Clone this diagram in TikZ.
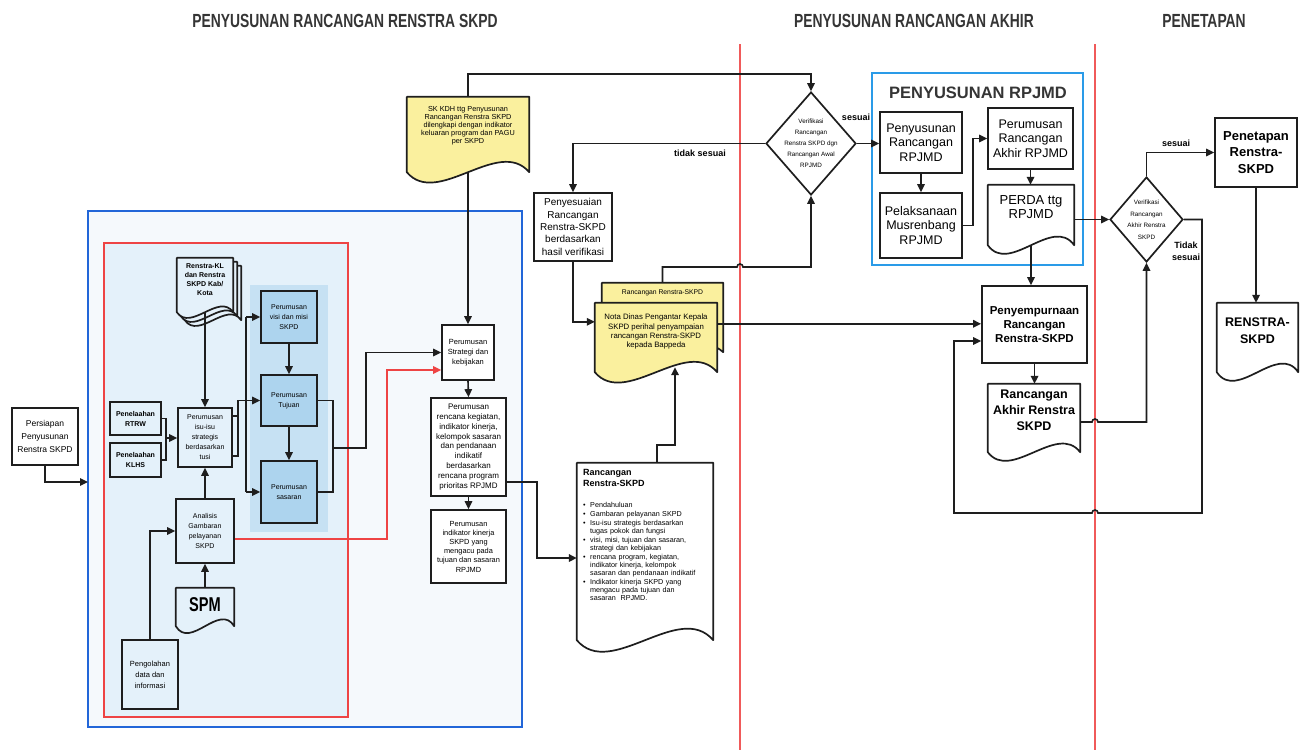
\documentclass[tikz,border=0pt]{standalone}
\usepackage{fontspec}
\setmainfont{Liberation Sans}
\newfontfamily\hdrfont{Liberation Sans}[FakeStretch=0.73]
\usetikzlibrary{shapes.geometric,arrows.meta,calc,fit}
\pgfdeclarelayer{bg}
\pgfdeclarelayer{docs}
\pgfsetlayers{bg,docs,main}
\definecolor{ink}{HTML}{1E1E1E}
\definecolor{redline}{HTML}{EE4444}
\definecolor{divred}{HTML}{F05A5A}
\definecolor{bigblue}{HTML}{2266D8}
\definecolor{rpblue}{HTML}{2A9BE8}
\definecolor{outerfill}{HTML}{F5F9FC}
\definecolor{palefill}{HTML}{E4F1FA}
\definecolor{midfill}{HTML}{C6E1F3}
\definecolor{boxfill}{HTML}{ADD4EE}
\definecolor{docyellow}{HTML}{FAF09E}
\newcommand\setfs[2]{\fontsize{#1}{#2}\selectfont}
\newcommand\rbul{\makebox[7pt][l]{\textbullet}}
\newcommand\rind{\hspace*{7pt}}
\newcommand\docbox[7]{%
  \node[fit={(#2,#3) (#4,#5)}, inner sep=0pt, draw=none] (#1) {};
  \begin{pgfonlayer}{docs}
  \filldraw[draw=ink, line width=1.7pt, fill=#6, line join=round]
    (#1.south west) -- (#1.north west) -- (#1.north east) -- (#1.south east)
    .. controls ($(#1.south)!0.5!(#1.south east)+(0,-#7)$)
           and ($(#1.south west)!0.5!(#1.south)+(0,#7)$) .. (#1.south west) -- cycle;
  \end{pgfonlayer}}
\tikzset{
  wh/.style 2 args={minimum width=#1pt, minimum height=#2pt},
  box/.style={draw=ink, line width=1.7pt, fill=white, align=center, inner sep=1pt},
  lbox/.style={box, fill=none},
  bbox/.style={box, fill=boxfill},
  txt/.style={align=center, inner sep=0pt},
  conn/.style={draw=ink, line width=1.6pt},
  arr/.style={conn, -{Triangle[length=8pt,width=7.5pt]}},
  redarr/.style={draw=redline, line width=1.7pt, -{Triangle[length=8pt,width=7.5pt]}},
  divider/.style={draw=divred, line width=1.1pt},
  lab/.style={inner sep=0pt, align=center, font=\bfseries\setfs{9}{12}},
  hdr/.style={inner sep=0pt, text=ink!90, font=\hdrfont\bfseries\setfs{19}{20}},
  dia/.style={diamond, draw=ink, line width=1.7pt, fill=white, inner sep=0pt}
}
\begin{document}
\begin{tikzpicture}[x=1pt,y=-1pt]
\useasboundingbox (0,0) rectangle (1304,750);
\begin{pgfonlayer}{bg}
\fill[white] (0,0) rectangle (1304,750);
\fill[outerfill] (88,211) rectangle (522,727);
\fill[palefill] (104,243) rectangle (348,717);
\fill[midfill] (250,285) rectangle (328,532);
\draw[divider] (740,44) -- (740,750);
\draw[divider] (1095,44) -- (1095,750);
\end{pgfonlayer}

% headers
\node[hdr] (h1) at (345,21) {PENYUSUNAN RANCANGAN RENSTRA SKPD};
\node[hdr] (h2) at (914,21) {PENYUSUNAN RANCANGAN AKHIR};
\node[hdr] (h3) at (1204,21) {PENETAPAN};

% frames
\node[draw=bigblue, line width=2pt, fit={(88,211) (522,727)}, inner sep=0pt] (bluebox) {};
\node[draw=redline, line width=1.7pt, fit={(104,243) (348,717)}, inner sep=0pt] (redbox) {};
\node[draw=rpblue, line width=2pt, fit={(872,73) (1083,265)}, inner sep=0pt] (rpbox) {};
\node[txt, font=\bfseries\setfs{16.5}{18}, text=ink!90] (rptitle) at (978,93) {PENYUSUNAN RPJMD};

% left part
\node[box, wh={66}{57}, font=\setfs{8.5}{13}] (persiapan) at (45,436.5) {Persiapan\\Penyusunan\\Renstra SKPD};
\node[lbox, wh={51}{33}, font=\bfseries\setfs{7}{10}] (rtrw) at (135.5,418.5) {Penelaahan\\RTRW};
\node[lbox, wh={51}{34}, font=\bfseries\setfs{7}{10}] (klhs) at (135.5,460) {Penelaahan\\KLHS};
\node[lbox, wh={54}{59}, font=\setfs{7}{10}] (isu) at (205,437.5) {Perumusan\\isu-isu\\strategis\\berdasarkan\\tusi};
\docbox{klc}{185}{266}{241}{320}{palefill}{20}
\docbox{klb}{181}{262}{237}{316}{palefill}{20}
\docbox{kl}{177}{258}{233}{312}{palefill}{20}
\node[txt, font=\bfseries\setfs{7}{9}, anchor=north] (kltext) at (205,263) {Renstra-KL\\dan Renstra\\SKPD Kab/\\Kota};
\node[bbox, wh={56}{52}, font=\setfs{7}{10}] (visi) at (289,317) {Perumusan\\visi dan misi\\SKPD};
\node[bbox, wh={56}{51}, font=\setfs{7}{10}] (tujuan) at (289,400.5) {Perumusan\\Tujuan};
\node[bbox, wh={56}{62}, font=\setfs{7}{10}] (sasaran) at (289,492) {Perumusan\\sasaran};
\node[lbox, wh={58}{64}, font=\setfs{7}{9.7}] (analisa) at (205,531) {Analisis\\Gambaran\\pelayanan\\SKPD};
\docbox{spm}{176}{588}{234}{626}{palefill}{24}
\node[txt, font=\hdrfont\bfseries\setfs{20}{22}, anchor=north] (spmtext) at (205,597) {SPM};
\node[lbox, wh={56}{69}, font=\setfs{7.5}{11}] (pengolahan) at (150,674.5) {Pengolahan\\data dan\\informasi};

% middle column
\node[box, wh={52}{55}, font=\setfs{7.5}{10}] (strategi) at (468,352.5) {Perumusan\\Strategi dan\\kebijakan};
\node[box, wh={75}{98}, font=\setfs{8}{9.9}] (rencana) at (468.5,447) {Perumusan\\rencana kegiatan,\\indikator kinerja,\\kelompok sasaran\\dan pendanaan\\indikatif\\berdasarkan\\rencana program\\prioritas RPJMD};
\node[box, wh={75}{73}, font=\setfs{7.4}{9.2}] (indikator) at (468.5,546.5) {Perumusan\\indikator kinerja\\SKPD yang\\mengacu pada\\tujuan dan sasaran\\RPJMD};
\docbox{sk}{407}{97}{529}{172}{docyellow}{36}
\node[txt, font=\setfs{7.3}{8}, anchor=north] (sktext) at (468,106) {SK KDH ttg Penyusunan\\Rancangan Renstra SKPD\\dilengkapi dengan indikator\\keluaran program dan PAGU\\per SKPD};
\node[box, wh={78}{68}, font=\setfs{10}{12.3}] (penyesuaian) at (573,227) {Penyesuaian\\Rancangan\\Renstra-SKPD\\berdasarkan\\hasil verifikasi};
\docbox{rr2}{602}{283}{723}{352}{docyellow}{28}
\node[txt, font=\setfs{6.8}{8}, anchor=north] (rr2text) at (662.5,290) {Rancangan Renstra-SKPD};
\docbox{nota}{595}{303}{717}{372}{docyellow}{36}
\node[txt, font=\setfs{7.8}{9.3}, anchor=north] (notatext) at (656,314) {Nota Dinas Pengantar Kepala\\SKPD perihal penyampaian\\rancangan Renstra-SKPD\\kepada Bappeda};
\docbox{rrdoc}{577}{463}{713}{640}{white}{40}
\node[anchor=north west, inner sep=0pt, text width=128pt, align=left, font=\setfs{7.2}{8}] (rrtext) at (583,469) {%
\setfs{9}{11}\bfseries Rancangan\\Renstra-SKPD\par
\vspace{13pt}\setfs{7.2}{8}\mdseries
\rbul Pendahuluan\\[1pt]
\rbul Gambaran pelayanan SKPD\\[1pt]
\rbul Isu-isu strategis berdasarkan\\
\rind tugas pokok dan fungsi\\[1pt]
\rbul visi, misi, tujuan dan sasaran,\\
\rind strategi dan kebijakan\\[1pt]
\rbul rencana program, kegiatan,\\
\rind indikator kinerja, kelompok\\
\rind sasaran dan pendanaan indikatif\\[1pt]
\rbul Indikator kinerja SKPD yang\\
\rind mengacu pada tujuan dan\\
\rind sasaran \ RPJMD.};

% verification 1
\node[dia, minimum width=90pt, minimum height=103pt] (d1) at (811,143.5) {};
\node[txt, font=\setfs{6.3}{11}] (d1text) at (811,143.5) {Verifikasi\\Rancangan\\Renstra SKPD dgn\\Rancangan Awal\\RPJMD};

% RPJMD
\node[box, wh={82}{61}, font=\setfs{12.5}{14.5}] (rp1) at (921,142.5) {Penyusunan\\Rancangan\\RPJMD};
\node[box, wh={82}{65}, font=\setfs{12.5}{14.5}] (rp2) at (921,225.5) {Pelaksanaan\\Musrenbang\\RPJMD};
\node[box, wh={85}{61}, font=\setfs{12.5}{14.5}] (akhir) at (1030.5,138.5) {Perumusan\\Rancangan\\Akhir RPJMD};
\docbox{perda}{988}{185}{1074}{245}{white}{30}
\node[txt, font=\setfs{13}{14}, anchor=north] (perdatext) at (1031,195) {PERDA ttg\\RPJMD};

% final
\node[box, wh={105}{77}, font=\bfseries\setfs{11.5}{14}] (penyemp) at (1034.5,324.5) {Penyempurnaan\\Rancangan\\Renstra-SKPD};
\docbox{rakhir}{988}{384}{1080}{452}{white}{30}
\node[txt, font=\bfseries\setfs{12.5}{16}, anchor=north] (rakhirtext) at (1034,390) {Rancangan\\Akhir Renstra\\SKPD};
\node[dia, minimum width=73pt, minimum height=85pt] (d2) at (1146.5,219.5) {};
\node[txt, font=\setfs{6.3}{11.5}] (d2text) at (1146.5,219.5) {Verifikasi\\Rancangan\\Akhir Renstra\\SKPD};
\node[box, wh={82}{69}, font=\bfseries\setfs{13}{16.5}] (penetapan) at (1256,152.5) {Penetapan\\Renstra-\\SKPD};
\docbox{renstra}{1217}{303}{1298}{372}{white}{30}
\node[txt, font=\bfseries\setfs{12.5}{17}, anchor=north] (renstratext) at (1257.5,318) {RENSTRA-\\SKPD};

% labels
\node[lab] (ltidak) at (700,153) {tidak sesuai};
\node[lab] (lsesuai) at (856,117) {sesuai};
\node[lab] (lsesuaib) at (1176,143) {sesuai};
\node[lab] (ltidakb) at (1186,251) {Tidak\\sesuai};

% coordinates
\coordinate (bbin) at (88,482);
\coordinate (brk) at (166,438);
\coordinate (isuo) at ($(isu.north east)+(5,9)$);
\coordinate (spl) at (246,0);
\coordinate (spr) at (333,0);
\coordinate (nq) at ($(nota.north east)+(0,21)$);

% connectors left
\draw[arr] (persiapan.south) |- (bbin);
\draw[conn] (rtrw.east) -| (brk);
\draw[conn] (klhs.east) -| (brk);
\draw[arr] (brk) -- (isu.west |- brk);
\draw[arr] (kl.south) -- (isu.north);
\draw[arr] (analisa.north) -- (isu.south);
\draw[arr] (spm.north) -- (analisa.south);
\draw[arr] (pengolahan.north) |- (analisa.west);
\draw[conn] ($(isu.north east)+(0,9)$) -- (isuo) -- ++(0,40) -- ++(-5,0);
\draw[conn] (isuo) |- (spl |- tujuan.west);
\draw[conn] (spl |- visi.west) -- (spl |- sasaran.west);
\draw[arr] (spl |- visi.west) -- (visi.west);
\draw[arr] (spl |- tujuan.west) -- (tujuan.west);
\draw[arr] (spl |- sasaran.west) -- (sasaran.west);
\draw[arr] (visi.south) -- (tujuan.north);
\draw[arr] (tujuan.south) -- (sasaran.north);
\draw[conn] (tujuan.east) -| (spr |- sasaran.east) -- (sasaran.east);
\draw[arr] (333,448) -- (366,448) |- (strategi.west);
\draw[redarr] ($(analisa.east)+(0,8)$) -| (387,370) -- ($(strategi.west)+(0,17.5)$);

% connectors middle
\draw[arr] (sk.south) -- (strategi.north);
\draw[arr] (strategi.south) -- (rencana.north);
\draw[arr] (rencana.south) -- (indikator.north);
\draw[arr] ($(rencana.east)+(0,35)$) -- (537,482) |- ($(rrdoc.west)+(0,6.5)$);
\draw[arr] ($(rrdoc.north)+(12,0)$) -- ++(0,-18) -| ($(nota.south)+(19,-5)$);
\draw[arr] (penyesuaian.south) |- ($(nota.north west)+(0,19)$);
\draw[arr] (nq) -- (nq -| penyemp.west);
\draw[arr] (rr2.north) |- (737,267) arc[start angle=180, end angle=360, radius=3] -| (d1.south);
\draw[arr] (sk.north) -- ++(0,-23) -| (d1.north);
\draw[arr] (d1.west) -| (penyesuaian.north);
\draw[arr] (d1.east) -- (d1.east -| rp1.west);

% connectors right
\draw[arr] (rp1.south) -- (rp2.north);
\draw[arr] (rp2.east) -- ++(10,0) |- (akhir.west);
\draw[arr] (akhir.south) -- (akhir.south |- perda.north);
\draw[arr] (perda.south) -- (perda.south |- penyemp.north);
\draw[arr] (perda.east |- d2.west) -- (d2.west);
\draw[arr] (d2.north) |- (penetapan.west);
\draw[arr] (penetapan.south) -- (penetapan.south |- renstra.north);
\draw[arr] (penyemp.south) -- (penyemp.south |- rakhir.north);
\draw[arr] ($(rakhir.east)+(0,4)$) -- (1092,422) arc[start angle=180, end angle=360, radius=3] -| (d2.south);
\draw[arr] (d2.east) -| (1202,513) -- (1098,513) arc[start angle=0, end angle=-180, radius=3] -- (954,513) |- ($(penyemp.west)+(0,16.5)$);
\end{tikzpicture}
\end{document}
